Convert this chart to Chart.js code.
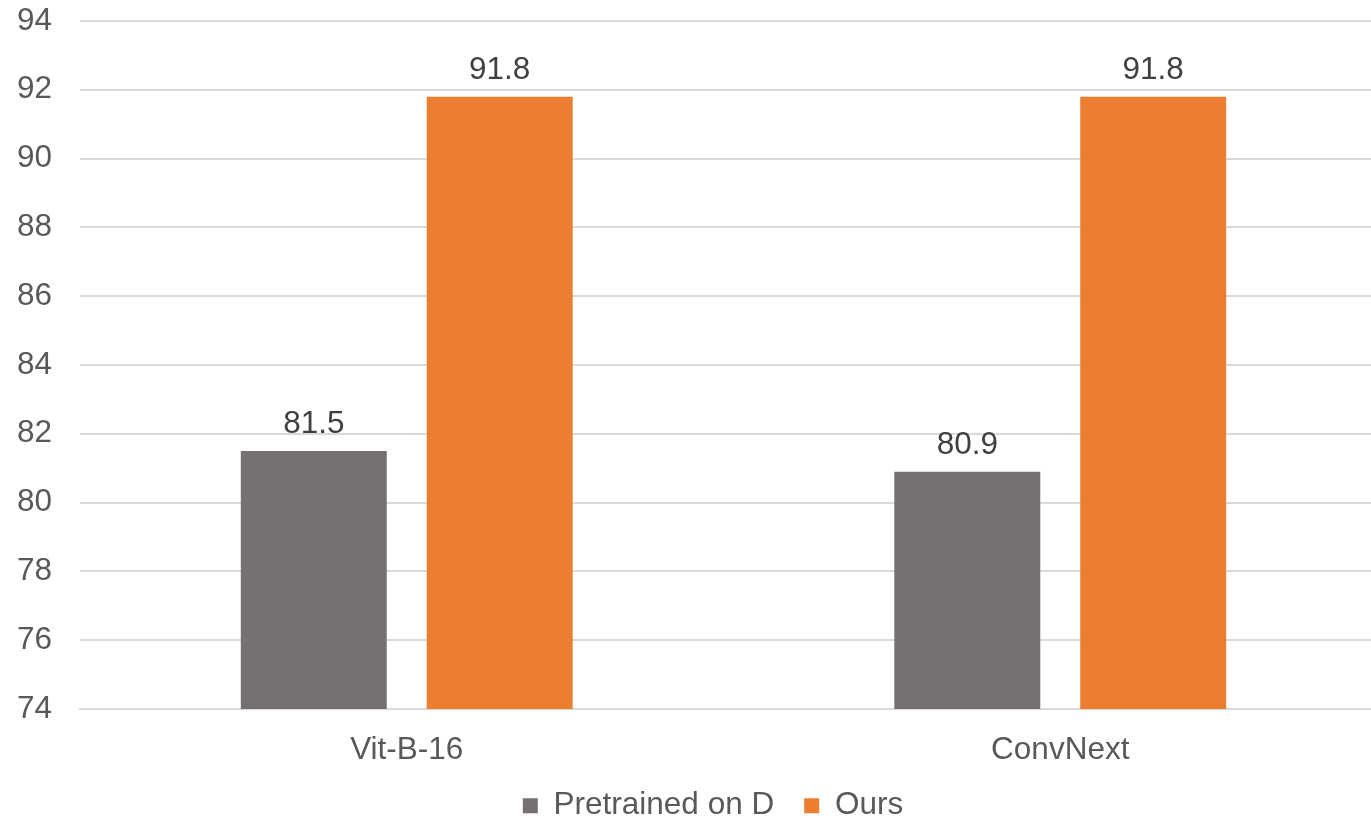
<!DOCTYPE html>
<html>
<head>
<meta charset="utf-8">
<script src="https://cdn.jsdelivr.net/npm/chart.js@4/dist/chart.umd.min.js"></script>
<style>
  html, body { margin: 0; padding: 0; background: #ffffff; overflow: hidden; }
  #wrap { position: absolute; left: 0; top: 0; width: 1426px; height: 821px; }
</style>
</head>
<body>
<div id="wrap"><canvas id="chart" width="1426" height="821"></canvas></div>
<script>
// Accuracy (%) of two backbones
const categories = ['Vit-B-16', 'ConvNext'];
const pretrainedOnD = [81.5, 80.9];
const ours = [91.8, 91.8];
const seriesNames = ['Pretrained on D', 'Ours'];
const yMin = 74, yMax = 94, yStep = 2;

const FONT = "'Liberation Sans', Arial, sans-serif";
const SIZE = 31.5;

// Writes each bar's value above it
const valueLabels = {
  id: 'valueLabels',
  afterDatasetsDraw(chart) {
    const ctx = chart.ctx;
    ctx.save();
    ctx.font = SIZE + 'px ' + FONT;
    ctx.fillStyle = '#404040';
    ctx.textAlign = 'center';
    ctx.textBaseline = 'alphabetic';
    chart.data.datasets.forEach((ds, i) => {
      chart.getDatasetMeta(i).data.forEach((bar, j) => {
        ctx.fillText(String(ds.data[j]), bar.x, bar.y - 18);
      });
    });
    ctx.restore();
  }
};

new Chart(document.getElementById('chart'), {
  type: 'bar',
  data: {
    labels: categories,
    datasets: [
      { label: seriesNames[0], data: pretrainedOnD, backgroundColor: '#767171', borderWidth: 0,
        categoryPercentage: 0.569, barPercentage: 0.785 },
      { label: seriesNames[1], data: ours, backgroundColor: '#ED7D31', borderWidth: 0,
        categoryPercentage: 0.569, barPercentage: 0.785 }
    ]
  },
  options: {
    responsive: false,
    animation: false,
    layout: { padding: { left: 0, right: 0, top: 21, bottom: -10.5 } },
    plugins: {
      tooltip: { enabled: false },
      legend: {
        position: 'bottom',
        labels: {
          boxWidth: 15, boxHeight: 15, padding: 30,
          color: '#595959',
          font: { family: FONT, size: SIZE }
        }
      }
    },
    scales: {
      x: {
        grid: { display: false },
        border: { display: true, color: '#D9D9D9', width: 2 },
        ticks: { color: '#595959', font: { family: FONT, size: SIZE }, padding: 14 },
        afterFit(scale) { scale.height = 51; }
      },
      y: {
        min: yMin, max: yMax,
        border: { display: false },
        grid: { color: '#D9D9D9', lineWidth: 2, drawTicks: false },
        ticks: { stepSize: yStep, color: '#595959', font: { family: FONT, size: SIZE }, padding: 28 },
        afterFit(scale) { scale.width = 80; scale.paddingTop = 0; scale.paddingBottom = 0; }
      },
      // empty margin on the right of the plot
      yRight: {
        position: 'right',
        grid: { display: false },
        border: { display: false },
        ticks: { display: false },
        afterFit(scale) { scale.width = 39; scale.paddingTop = 0; scale.paddingBottom = 0; }
      }
    }
  },
  plugins: [valueLabels]
});
</script>
</body>
</html>
